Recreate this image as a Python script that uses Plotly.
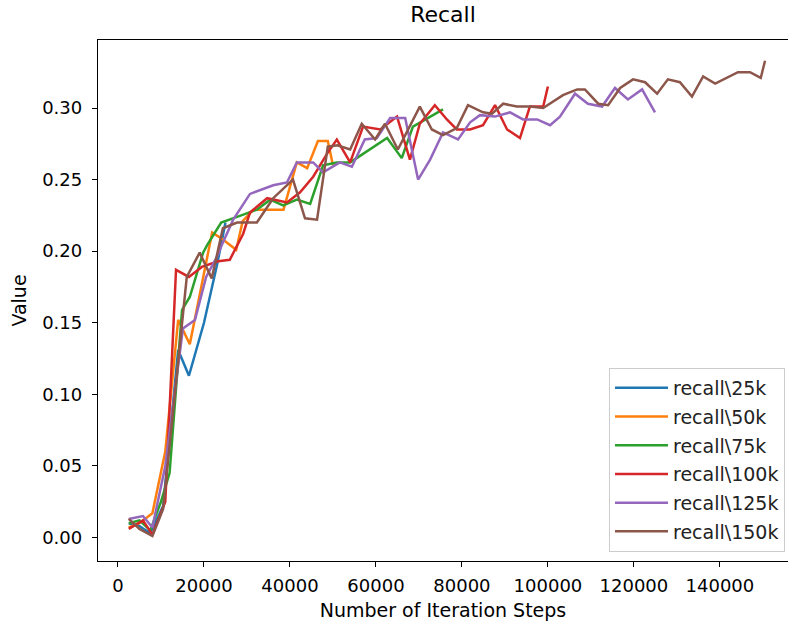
import plotly.graph_objects as go

# ---- data ----
names = ["recall\\25k", "recall\\50k", "recall\\75k", "recall\\100k", "recall\\125k", "recall\\150k"]
colors = ["#1f77b4", "#ff7f0e", "#2ca02c", "#d62728", "#9467bd", "#8c564b"]

x_25k = [2500, 5000, 7500, 10500, 14000, 16500, 20000, 23000, 25000]
y_25k = [0.010, 0.008, 0.003, 0.022, 0.131, 0.113, 0.150, 0.190, 0.220]

x_50k = [2500, 5000, 8000, 11000, 14000, 16700, 21900, 24000, 27500, 29000, 31500,
         38500, 41600, 44000, 46500, 48800, 50000]
y_50k = [0.007, 0.010, 0.017, 0.060, 0.152, 0.135, 0.213, 0.209, 0.201, 0.221, 0.229,
         0.229, 0.262, 0.258, 0.277, 0.277, 0.260]

x_75k = [2500, 5000, 7500, 10000, 12000, 14900, 16700, 19800, 20700, 24000, 27700, 32300,
         35400, 38400, 41600, 44700, 47700, 50900, 54000, 62600, 66000, 68600, 75600]
y_75k = [0.010, 0.012, 0.005, 0.025, 0.045, 0.159, 0.168, 0.199, 0.204, 0.220, 0.224, 0.229,
         0.236, 0.232, 0.236, 0.233, 0.260, 0.262, 0.262, 0.279, 0.265, 0.287, 0.299]

x_100k = [2500, 5800, 8000, 11000, 13500, 16500, 19500, 23300, 26000, 29100, 30700, 34700,
          39300, 42300, 45400, 48600, 50900, 54000, 57000, 61000, 64900, 67900, 70200,
          73700, 76500, 78800, 81900, 84900, 87700, 90500, 93500, 95800, 98900, 100000]
y_100k = [0.006, 0.012, 0.002, 0.025, 0.187, 0.182, 0.189, 0.193, 0.194, 0.212, 0.227, 0.237,
          0.234, 0.241, 0.252, 0.268, 0.278, 0.262, 0.287, 0.285, 0.294, 0.264, 0.289,
          0.302, 0.292, 0.285, 0.285, 0.288, 0.302, 0.285, 0.279, 0.301, 0.301, 0.315]

x_125k = [2500, 5800, 8000, 11000, 15100, 17900, 20500, 23000, 24400, 26800, 30700, 36100,
          39300, 41600, 45400, 47700, 51600, 54400, 57400, 60200, 63300, 66800, 69800,
          72600, 75600, 79100, 81900, 84200, 87700, 91200, 94200, 97500, 100500, 102800,
          106300, 109300, 112600, 115600, 118600, 121900, 124900]
y_125k = [0.013, 0.015, 0.007, 0.050, 0.146, 0.152, 0.182, 0.196, 0.206, 0.222, 0.240, 0.246,
          0.248, 0.262, 0.262, 0.255, 0.262, 0.259, 0.278, 0.279, 0.293, 0.293, 0.250,
          0.264, 0.283, 0.278, 0.290, 0.295, 0.294, 0.297, 0.292, 0.292, 0.288, 0.294,
          0.310, 0.303, 0.301, 0.314, 0.306, 0.313, 0.297]

x_150k = [2500, 5000, 8000, 10500, 16000, 19000, 21800, 24400, 27700, 32300, 36100, 40700,
          43500, 46300, 48800, 51000, 54000, 56700, 59800, 62100, 65100, 70200, 73000,
          75600, 78800, 81400, 84900, 87000, 89600, 92800, 95800, 98900, 103500, 106800,
          108600, 111700, 114000, 116800, 119800, 122600, 125400, 127900, 130700, 133500,
          136100, 138900, 144200, 147000, 149500, 150500]
y_150k = [0.013, 0.006, 0.001, 0.020, 0.182, 0.199, 0.181, 0.216, 0.220, 0.220, 0.237, 0.250,
          0.223, 0.222, 0.273, 0.274, 0.271, 0.289, 0.278, 0.289, 0.271, 0.301, 0.285,
          0.281, 0.286, 0.302, 0.297, 0.296, 0.303, 0.301, 0.301, 0.300, 0.309, 0.313,
          0.313, 0.303, 0.302, 0.314, 0.320, 0.318, 0.310, 0.320, 0.318, 0.308,
          0.322, 0.317, 0.325, 0.325, 0.321, 0.333]

xs = [x_25k, x_50k, x_75k, x_100k, x_125k, x_150k]
ys = [y_25k, y_50k, y_75k, y_100k, y_125k, y_150k]

x_ticks = [0, 20000, 40000, 60000, 80000, 100000, 120000, 140000]
y_ticks = [0.00, 0.05, 0.10, 0.15, 0.20, 0.25, 0.30]

FONT = "DejaVu Sans"

fig = go.Figure()
for name, c, x, y in zip(names, colors, xs, ys):
    fig.add_trace(go.Scatter(x=x, y=y, mode="lines", name=name, legendgroup=name,
                             line=dict(color=c, width=2.5)))

fig.update_layout(
    width=788, height=625,
    margin=dict(l=98, r=0, t=40, b=64),
    paper_bgcolor="white", plot_bgcolor="white",
    font=dict(family=FONT, size=18, color="black"),
    title=dict(text="Recall", x=0.5, xref="paper", xanchor="center",
               y=1 - 14 / 625, yref="container", yanchor="middle",
               font=dict(family=FONT, size=22, color="black")),
    showlegend=True,
    legend=dict(x=0.7406, y=0.0173, xanchor="left", yanchor="bottom",
                bgcolor="rgba(255,255,255,0.8)", bordercolor="#cccccc", borderwidth=1,
                font=dict(family=FONT, size=19, color="#222222"),
                itemwidth=53, tracegroupgap=1, traceorder="grouped"),
)

fig.update_xaxes(
    range=[-4650, 155840], tickvals=x_ticks, ticktext=[str(v) for v in x_ticks],
    showgrid=False, zeroline=False, showline=True, linecolor="black", linewidth=1.3,
    mirror=True, ticks="outside", ticklen=5, tickwidth=1.3, tickcolor="black",
    ticklabelstandoff=3,
    title=dict(text="Number of Iteration Steps", standoff=8,
               font=dict(family=FONT, size=19)),
)
fig.update_yaxes(
    range=[-0.0164, 0.3475], tickvals=y_ticks, ticktext=["%.2f" % v for v in y_ticks],
    showgrid=False, zeroline=False, showline=True, linecolor="black", linewidth=1.3,
    mirror=False, ticks="outside", ticklen=5, tickwidth=1.3, tickcolor="black",
    ticklabelstandoff=6,
    title=dict(text="Value", standoff=10, font=dict(family=FONT, size=19)),
)

fig.write_html("out.html")
